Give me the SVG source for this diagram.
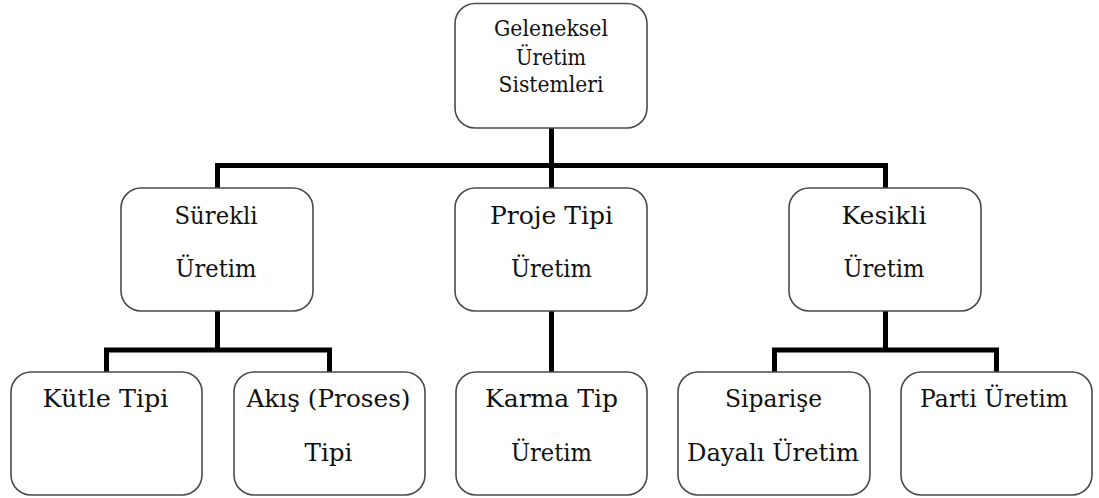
<svg xmlns="http://www.w3.org/2000/svg" width="1099" height="498" viewBox="0 0 1099 498">
<style>
.box{fill:#fff;stroke:#4a4a4a;stroke-width:1.6}
.conn{fill:none;stroke:#000;stroke-width:5;stroke-linejoin:miter;stroke-linecap:butt}
text{font-family:'DejaVu Serif','Liberation Serif',serif;fill:#111;text-anchor:middle}
.t1{font-size:22px}
.t2{font-size:24px}
</style>
<rect width="1099" height="498" fill="#fff"/>
<g id="connectors">
<path class="conn" d="M551.5,128 V188"/>
<path class="conn" d="M217.5,188 V165.5 H885.5 V188"/>
<path class="conn" d="M217.5,311 V350"/>
<path class="conn" d="M106.5,372 V350 H329.5 V372"/>
<path class="conn" d="M551.5,311 V372"/>
<path class="conn" d="M885.5,311 V350"/>
<path class="conn" d="M774.5,372 V350 H996.5 V372"/>
</g>
<g id="n-geleneksel">
<rect class="box" x="455" y="3.5" width="192" height="124.5" rx="20"/>
<text class="t1" x="551" y="36" textLength="114" lengthAdjust="spacingAndGlyphs">Geleneksel</text>
<text class="t1" x="551" y="65" textLength="70" lengthAdjust="spacingAndGlyphs">Üretim</text>
<text class="t1" x="551" y="92" textLength="105" lengthAdjust="spacingAndGlyphs">Sistemleri</text>
</g>
<g id="n-surekli">
<rect class="box" x="121" y="188" width="192" height="123" rx="20"/>
<text class="t2" x="216" y="223.5" textLength="83" lengthAdjust="spacingAndGlyphs">Sürekli</text>
<text class="t2" x="216" y="277" textLength="81" lengthAdjust="spacingAndGlyphs">Üretim</text>
</g>
<g id="n-proje">
<rect class="box" x="455" y="188" width="192" height="123" rx="20"/>
<text class="t2" x="551.5" y="223.5" textLength="123" lengthAdjust="spacingAndGlyphs">Proje Tipi</text>
<text class="t2" x="551.5" y="277" textLength="81" lengthAdjust="spacingAndGlyphs">Üretim</text>
</g>
<g id="n-kesikli">
<rect class="box" x="789" y="188" width="192" height="123" rx="20"/>
<text class="t2" x="884" y="223.5" textLength="85" lengthAdjust="spacingAndGlyphs">Kesikli</text>
<text class="t2" x="884" y="277" textLength="81" lengthAdjust="spacingAndGlyphs">Üretim</text>
</g>
<g id="n-kutle">
<rect class="box" x="11" y="372" width="191" height="123" rx="20"/>
<text class="t2" x="105.5" y="407" textLength="126" lengthAdjust="spacingAndGlyphs">Kütle Tipi</text>
</g>
<g id="n-akis">
<rect class="box" x="234" y="372" width="191" height="123" rx="20"/>
<text class="t2" x="328.5" y="407" textLength="164" lengthAdjust="spacingAndGlyphs">Akış (Proses)</text>
<text class="t2" x="328.5" y="461" textLength="48" lengthAdjust="spacingAndGlyphs">Tipi</text>
</g>
<g id="n-karma">
<rect class="box" x="456" y="372" width="191" height="123" rx="20"/>
<text class="t2" x="551.5" y="407" textLength="133" lengthAdjust="spacingAndGlyphs">Karma Tip</text>
<text class="t2" x="551.5" y="461" textLength="81" lengthAdjust="spacingAndGlyphs">Üretim</text>
</g>
<g id="n-siparis">
<rect class="box" x="678" y="372" width="192" height="123" rx="20"/>
<text class="t2" x="773.5" y="407" textLength="97" lengthAdjust="spacingAndGlyphs">Siparişe</text>
<text class="t2" x="773" y="461" textLength="172" lengthAdjust="spacingAndGlyphs">Dayalı Üretim</text>
</g>
<g id="n-parti">
<rect class="box" x="901" y="372" width="191" height="123" rx="20"/>
<text class="t2" x="994" y="407" textLength="148" lengthAdjust="spacingAndGlyphs">Parti Üretim</text>
</g>
</svg>
